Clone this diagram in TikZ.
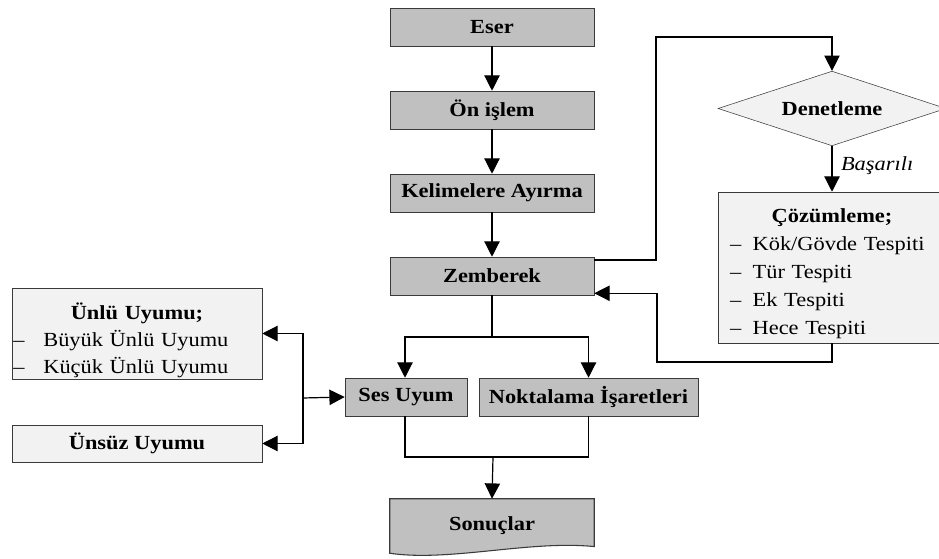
\documentclass[tikz,border=0pt]{standalone}
\usepackage{fontspec}
\setmainfont{Liberation Serif}[FakeStretch=1.12]
\usetikzlibrary{arrows.meta,positioning,shapes.geometric}
\definecolor{flowgray}{HTML}{C0C0C0}
\definecolor{flowlight}{HTML}{F2F2F2}
\definecolor{flowedge}{HTML}{3A3A3A}
\newcommand{\flowfont}{\fontsize{15pt}{21pt}\selectfont}
\newcommand{\itemrow}[3]{\hspace*{#1}\makebox[#2][l]{\textendash}#3}
\tikzset{
  stepbox/.style={rectangle,draw=flowedge,fill=flowgray,minimum width=153pt,minimum height=28.5pt,font=\flowfont\bfseries,inner sep=2pt},
  notebox/.style={rectangle,draw=flowedge,fill=flowlight,minimum width=187.5pt,minimum height=27.75pt,font=\flowfont\bfseries,inner sep=2pt},
  listbox/.style={rectangle,draw=flowedge,fill=flowlight,align=left,inner xsep=1pt,inner ysep=0pt,font=\flowfont},
  check/.style={diamond,draw=flowedge,fill=flowlight,aspect=3,minimum width=171pt,minimum height=56pt,inner sep=0pt,font=\flowfont\bfseries},
  flow/.style={-{Triangle[length=11.5pt,width=11.5pt]},line width=0.9pt},
  link/.style={line width=0.9pt}
}
\begin{document}
\begin{tikzpicture}[x=0.75pt,y=-0.75pt,font=\flowfont]
\useasboundingbox (0,0) rectangle (939,559);
% main column
\node[stepbox] (eser) at (492,27) {Eser};
\node[stepbox] (onislem) at (492,110) {Ön işlem};
\node[stepbox] (ayirma) at (492,193) {Kelimelere Ayırma};
\node[stepbox] (zemberek) at (492,276) {Zemberek};
\node[stepbox,minimum width=91.5pt] (sesuyum) at (406,397) {Ses Uyum};
\node[stepbox,minimum width=164.25pt] (noktalama) at (588.5,397) {Noktalama İşaretleri};
\node[minimum width=153pt,minimum height=37.5pt,inner sep=0pt] (sonuclar) at (492,524) {};
% right side
\node[check] (denetleme) at (832,108.5) {Denetleme};
\node[listbox,text width=169pt,minimum height=113.25pt] (cozumleme) at (832,267.5)
  {{\centering\rule{0pt}{20pt}\textbf{Çözümleme;}\par}
   \itemrow{8pt}{17pt}{Kök/Gövde Tespiti}\\
   \itemrow{8pt}{17pt}{Tür Tespiti}\\
   \itemrow{8pt}{17pt}{Ek Tespiti}\\
   \itemrow{8pt}{17pt}{Hece Tespiti}};
% left side
\node[listbox,text width=185.5pt,minimum height=68.25pt,font=\fontsize{15pt}{20.25pt}\selectfont] (unlu) at (137,333.5)
  {{\centering\rule{0pt}{22pt}\textbf{Ünlü Uyumu;}\par}
   \itemrow{0pt}{22.5pt}{Büyük Ünlü Uyumu}\\
   \itemrow{0pt}{22.5pt}{Küçük Ünlü Uyumu}};
\node[notebox] (unsuz) at (137,443.5) {Ünsüz Uyumu};
% document shape
\draw[flowedge,fill=flowgray,line width=0.8pt] (sonuclar.north west) -- (sonuclar.north east) -- ([yshift=2pt]sonuclar.south east)
  .. controls (530,540) and (450,562) .. ([yshift=-3pt]sonuclar.south west) -- cycle;
\node[font=\flowfont\bfseries] at ([yshift=-1pt]sonuclar) {Sonuçlar};
% helper points
\coordinate (looptop) at (656,37);
\coordinate (loopbot) at (657,362);
\coordinate (split) at (492,337);
\coordinate (fork) at (303,398);
\coordinate (merge) at (493,457);
% connectors
\draw[flow] (eser) -- (onislem);
\draw[flow] (onislem) -- (ayirma);
\draw[flow] (ayirma) -- (zemberek);
\draw[flow] ([yshift=-2.5pt]zemberek.north east) -| (looptop) -| (denetleme.north);
\draw[flow] (denetleme.south) -- node[right,pos=0.42,xshift=3pt,font=\itshape\fontsize{15pt}{17pt}\selectfont]{Başarılı} (cozumleme.north);
\draw[flow] (cozumleme.south) |- (loopbot) |- ([yshift=1.5pt]zemberek.south east);
\draw[link] (zemberek.south) -- (split);
\draw[flow] (split) -| ([xshift=-0.75pt]sesuyum.north);
\draw[flow] (split) -| (noktalama.north);
\draw[flow] (fork) -- (sesuyum.west);
\draw[flow] (fork) |- (unlu.east);
\draw[flow] (fork) |- (unsuz.east);
\draw[link] ([xshift=-0.75pt]sesuyum.south) |- (merge) -| (noktalama.south);
\draw[flow] (merge) -- (sonuclar.north);
\end{tikzpicture}
\end{document}
